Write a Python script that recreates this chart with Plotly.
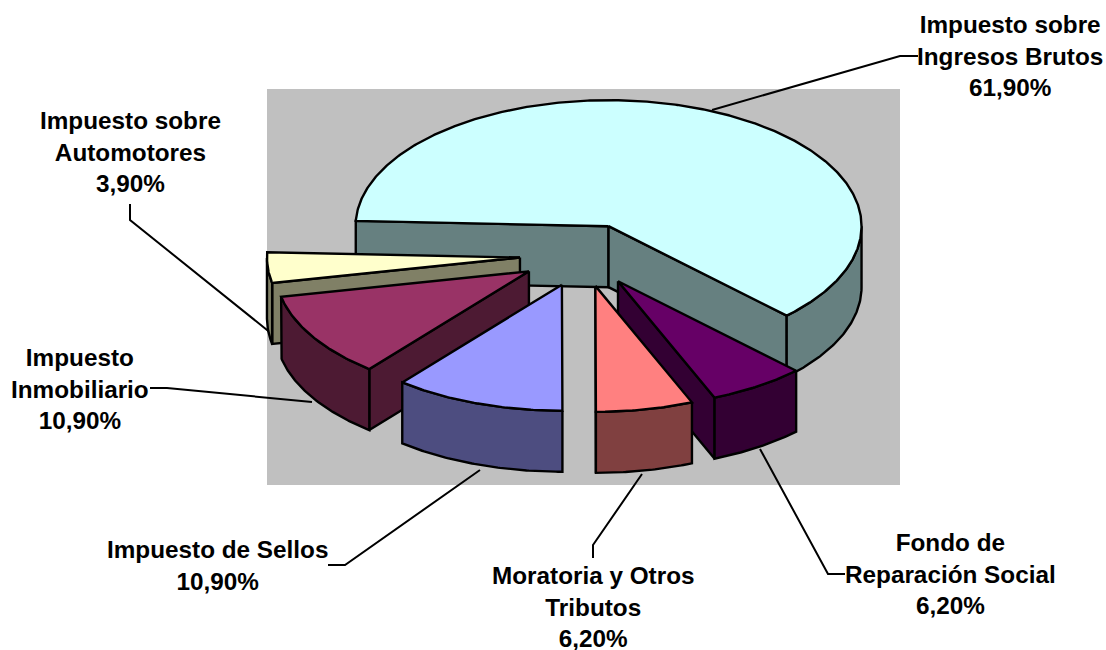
import numpy as np
import plotly.graph_objects as go

# --- data -----------------------------------------------------------------
label_lines = ["Impuesto sobre<br>Ingresos Brutos", "Fondo de<br>Reparación Social",
               "Moratoria y Otros<br>Tributos", "Impuesto de Sellos",
               "Impuesto<br>Inmobiliario", "Impuesto sobre<br>Automotores"]
values = [61.9, 6.2, 6.2, 10.9, 10.9, 3.9]
top_colors = ["#CCFFFF", "#660066", "#FF8080", "#9999FF", "#993366", "#FFFFCC"]
wall_colors = ["#668080", "#330033", "#804040", "#4D4D80", "#4D1A33", "#808066"]
draw_order = [0, 5, 4, 1, 2, 3]

# --- pie projection -------------------------------------------------------
CX, CY, RX, RY = 583.0, 255.0, 253.0, 126.0
EXPLODE, DEPTH = 0.25, 61.0
START_ANGLE = 177.6

label_pos = [(1010, 56), (950, 574), (593, 607), (217, 565), (80, 389), (130, 152)]
leaders = [
    [(712, 110), (900, 56), (918, 56)],
    [(760, 449), (828, 574), (845, 574)],
    [(642, 474), (593, 545), (593, 558)],
    [(480, 470), (345, 565), (328, 565)],
    [(312, 402), (167, 388), (150, 388)],
    [(272, 334), (130, 220), (130, 204)],
]

fig = go.Figure()


def poly(xs, ys, fill, width=2.4):
    fig.add_trace(go.Scatter(
        x=list(xs), y=list(ys), mode="lines", fill="toself", fillcolor=fill,
        line=dict(color="black", width=width), hoverinfo="skip", showlegend=False))


for pts in leaders:
    fig.add_trace(go.Scatter(
        x=[p[0] for p in pts], y=[p[1] for p in pts], mode="lines",
        line=dict(color="black", width=2), hoverinfo="skip", showlegend=False))

# slice angle limits, clockwise from the start angle
sweeps = np.array(values) / sum(values) * 360.0
ends = START_ANGLE - np.cumsum(sweeps)
starts = ends + sweeps

for i in draw_order:
    a1, a2 = starts[i], ends[i]
    mid = np.radians((a1 + a2) / 2)
    ax = CX + EXPLODE * RX * np.cos(mid)
    ay = CY - EXPLODE * RY * np.sin(mid)
    t = np.radians(np.linspace(a1, a2, max(int(abs(a1 - a2) * 2), 12)))
    ex = ax + RX * np.cos(t)
    ey = ay - RY * np.sin(t)

    # radial side walls: only those facing the viewer
    for k in (0, -1):
        cx_, cy_ = np.cos(t[k]), np.sin(t[k])
        interior = cx_ * np.sin(mid) - cy_ * np.cos(mid)
        downward = -cx_
        if interior * downward < 0:
            poly([ax, ex[k], ex[k], ax, ax], [ay, ey[k], ey[k] + DEPTH, ay + DEPTH, ay], wall_colors[i])
    # outer curved wall: only the front half can be seen
    front = np.sin(t) <= 0
    if front.sum() > 1:
        fx, fy = ex[front], ey[front]
        poly(np.r_[fx, fx[::-1], fx[0]], np.r_[fy, fy[::-1] + DEPTH, fy[0]], wall_colors[i])
    # top face
    poly(np.r_[ax, ex, ax], np.r_[ay, ey, ay], top_colors[i])

for name, v, (x, y) in zip(label_lines, values, label_pos):
    fig.add_annotation(
        x=x, y=y, text=f"<b>{name}<br>{v:.2f}%</b>".replace(".", ","), showarrow=False,
        xanchor="center", yanchor="middle", align="center",
        font=dict(family="Liberation Sans, Arial, sans-serif", size=24.3, color="black"))

fig.add_shape(type="rect", x0=267, x1=900, y0=89, y1=485, layer="below",
              fillcolor="#C0C0C0", line_width=0)

fig.update_layout(
    width=1106, height=650, margin=dict(l=0, r=0, t=0, b=0),
    paper_bgcolor="white", plot_bgcolor="white", showlegend=False,
    xaxis=dict(range=[0, 1106], visible=False, fixedrange=True),
    yaxis=dict(range=[650, 0], visible=False, fixedrange=True),
)
fig.write_html("out.html", config={"displayModeBar": False},
               post_script="document.body.style.margin='0';document.documentElement.style.overflow='hidden';")
